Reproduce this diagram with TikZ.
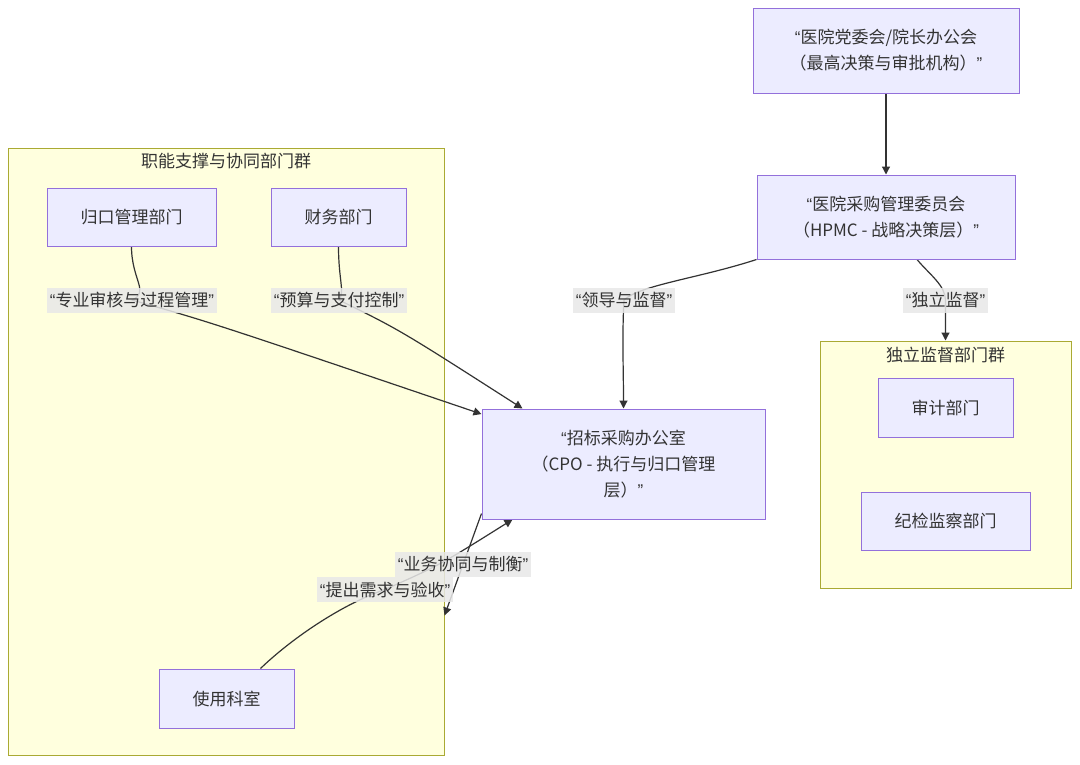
\documentclass[tikz,border=0pt]{standalone}
\usepackage{fontspec}
\newfontfamily\cjk{Noto Sans CJK SC}
\newfontfamily\latn{Liberation Sans}
\newcommand{\oq}{{\latn “}}
\newcommand{\cq}{{\latn ”}}
\usetikzlibrary{arrows.meta,calc}
\definecolor{boxfill}{HTML}{ECECFF}
\definecolor{boxline}{HTML}{9370DB}
\definecolor{grpfill}{HTML}{FFFFDE}
\definecolor{grpline}{HTML}{AAAA33}
\definecolor{lblfill}{HTML}{E8E8E8}
\definecolor{edgecol}{HTML}{333333}
\definecolor{txt}{HTML}{333333}
\pgfdeclarelayer{bg}
\pgfdeclarelayer{edges}
\pgfsetlayers{bg,edges,main}
\tikzset{
  unit/.style={draw=boxline, fill=boxfill, line width=1pt, text=txt, align=center, inner sep=0pt,
    font=\cjk\fontsize{17}{26}\selectfont},
  grp/.style={draw=grpline, fill=grpfill, line width=1pt, inner sep=0pt},
  grptitle/.style={text=txt, inner sep=0pt, font=\cjk\fontsize{17}{26}\selectfont},
  lbl/.style={fill=lblfill, fill opacity=0.85, text opacity=1, text=txt, inner xsep=3pt, inner ysep=0pt,
    minimum height=25pt, font=\cjk\fontsize{17}{26}\selectfont},
  flow/.style={draw=edgecol, line width=1.2pt, -{Triangle[length=8pt,width=8pt]}},
}

\begin{document}
\begin{tikzpicture}[x=1pt,y=-1pt]
	\useasboundingbox (0,0) rectangle (1080,764);
	\begin{pgfonlayer}{bg}
		\fill[white] (0,0) rectangle (1080,764);
		\node[grp, minimum width=436pt, minimum height=607pt] (usegrp) at (226,451.5) {};
		\node[grp, minimum width=251pt, minimum height=247pt] (indgrp) at (945.5,464.5) {};
	\end{pgfonlayer}
	\node[grptitle] (usetitle) at (226,161) {职能支撑与协同部门群};
	\node[grptitle] (indtitle) at (945.5,355) {独立监督部门群};
	% decision levels
	\node[unit, minimum width=266pt, minimum height=85pt] (party) at (886,50.5) {\oq 医院党委会/院长办公会\\（最高决策与审批机构）\cq};
	\node[unit, minimum width=258pt, minimum height=84pt] (hpmc) at (886,217) {\oq 医院采购管理委员会\\（HPMC - 战略决策层）\cq};
	\node[unit, minimum width=283pt, minimum height=110pt] (cpo) at (623.5,464) {\oq 招标采购办公室\\（CPO - 执行与归口管理\\层）\cq};
	% departments
	\node[unit, minimum width=169pt, minimum height=58pt] (guikou) at (131.5,217) {归口管理部门};
	\node[unit, minimum width=135pt, minimum height=58pt] (caiwu) at (338.5,217) {财务部门};
	\node[unit, minimum width=135pt, minimum height=59pt] (keshi) at (226.5,698.5) {使用科室};
	\node[unit, minimum width=135pt, minimum height=59pt] (shenji) at (945.5,407.5) {审计部门};
	\node[unit, minimum width=169pt, minimum height=58pt] (jijian) at (945.5,521) {纪检监察部门};
	% edge labels
	\node[lbl] (lead) at (624,300) {\oq 领导与监督\cq};
	\node[lbl] (ind) at (945.5,300) {\oq 独立监督\cq};
	\node[lbl] (pro) at (132,300) {\oq 专业审核与过程管理\cq};
	\node[lbl] (bud) at (339,300) {\oq 预算与支付控制\cq};
	\node[lbl] (coop) at (463,564.5) {\oq 业务协同与制衡\cq};
	\node[lbl] (req) at (385,589.5) {\oq 提出需求与验收\cq};
	\begin{pgfonlayer}{edges}
		\draw[flow] (party) -- (hpmc);
		\draw[flow] (hpmc.south west) .. controls (700,278) and (640,285) .. (lead.center) .. controls (622,335) and (623.5,370) .. (cpo.north);
		\draw[flow] ($(hpmc.south)+(31,0)$) .. controls (930,275) and (945,285) .. (ind.center) -- (indgrp.north);
		\draw[flow] (guikou.south) .. controls (131.5,280) and (150,292) .. (pro.center) .. controls (210,322) .. ($(cpo.north west)!0.05!(cpo.south west)$);
		\draw[flow] (caiwu.south) .. controls (338.5,280) and (345,292) .. (bud.center) .. controls (400,330) .. ($(cpo.north west)+(41,0)$);
		\draw[flow] ($(cpo.south west)+(0,-6)$) -- (coop.center) -- ($(usegrp.south east)+(0,-140)$);
		\draw[flow] ($(keshi.north)+(34,0)$) .. controls (290,640) and (340,605) .. (req.center) .. controls (440,565) .. ($(cpo.south west)+(31,0)$);
	\end{pgfonlayer}
\end{tikzpicture}
\end{document}
